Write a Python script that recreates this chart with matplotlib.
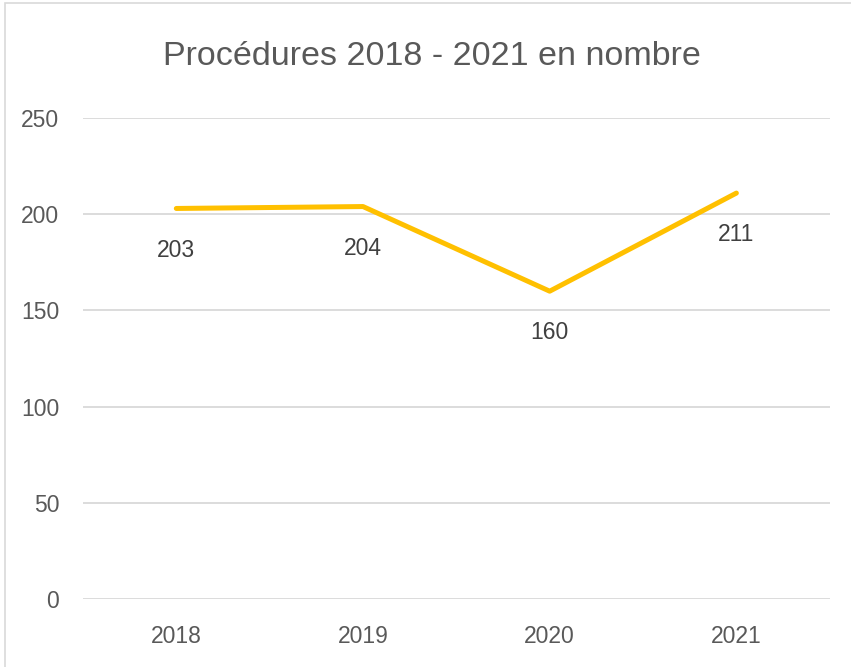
import matplotlib.pyplot as plt
from matplotlib.patches import Rectangle

years = ["2018", "2019", "2020", "2021"]
procedures = [203, 204, 160, 211]
y_ticks = [0, 50, 100, 150, 200, 250]

plt.rcParams['font.family'] = ['Liberation Sans Narrow', 'Liberation Sans', 'DejaVu Sans']

fig = plt.figure(figsize=(8.51, 6.67), dpi=100)
ax = fig.add_axes([0.0975, 0.102, 0.8775, 0.721])

x = list(range(len(years)))
ax.plot(x, procedures, color="#FFC000", linewidth=3.6, solid_capstyle="round")

for xi, v in zip(x, procedures):
    ax.annotate(str(v), (xi, v), xytext=(0, -30), textcoords="offset points",
                ha="center", va="center", fontsize=16.5, color="#404040")

ax.set_xlim(-0.5, len(years) - 0.5)
ax.set_ylim(0, 250)
ax.set_xticks(x)
ax.set_xticklabels(years)
ax.set_yticks(y_ticks)
ax.tick_params(axis="both", length=0, labelsize=16.5, labelcolor="#595959")
ax.tick_params(axis="x", pad=19)
ax.tick_params(axis="y", pad=17)
ax.grid(axis="y", color="#D9D9D9", linewidth=1.3)
ax.set_axisbelow(True)
for s in ax.spines.values():
    s.set_visible(False)

fig.text(0.508, 0.916, "Procédures 2018 - 2021 en nombre", ha="center", va="center",
         fontsize=24.5, color="#595959")

fig.patches.append(Rectangle((0.006, -0.05), 1.2, 1.045, transform=fig.transFigure,
                             fill=False, edgecolor="#D9D9D9", linewidth=1.2))

fig.savefig("out.png")
